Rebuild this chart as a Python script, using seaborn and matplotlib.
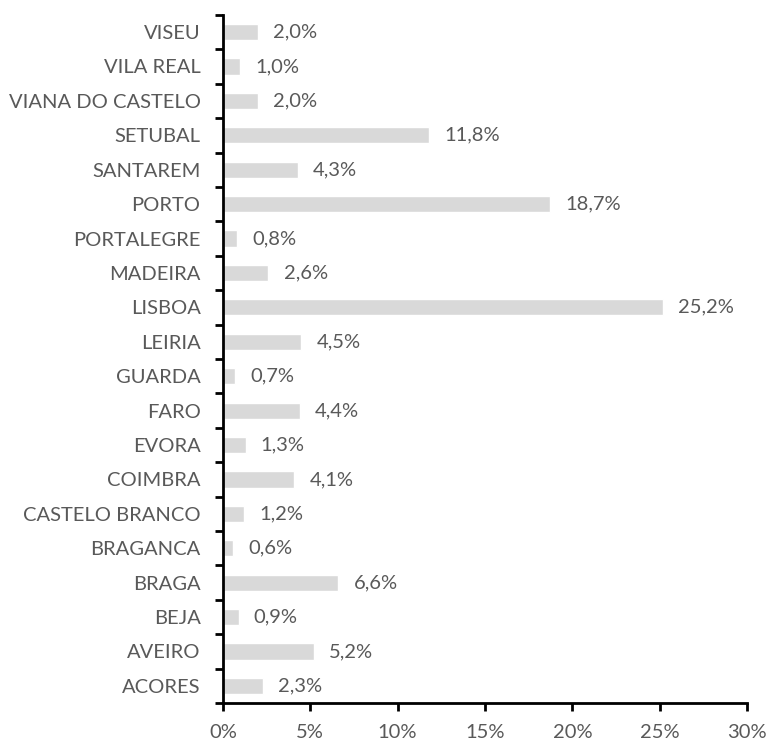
import matplotlib
matplotlib.use("Agg")
import matplotlib.pyplot as plt
import seaborn as sns
import pandas as pd
import numpy as np
from matplotlib.ticker import FixedLocator, FuncFormatter

categories = ["VISEU", "VILA REAL", "VIANA DO CASTELO", "SETUBAL", "SANTAREM", "PORTO",
              "PORTALEGRE", "MADEIRA", "LISBOA", "LEIRIA", "GUARDA", "FARO", "EVORA",
              "COIMBRA", "CASTELO BRANCO", "BRAGANCA", "BRAGA", "BEJA", "AVEIRO", "ACORES"]
values = [2.0, 1.0, 2.0, 11.8, 4.3, 18.7, 0.8, 2.6, 25.2, 4.5, 0.7, 4.4, 1.3,
          4.1, 1.2, 0.6, 6.6, 0.9, 5.2, 2.3]
x_ticks = [0, 5, 10, 15, 20, 25, 30]

sns.set_style("white")
plt.rcParams['font.family'] = ['Lato', 'DejaVu Sans']
text_color = "#595959"
fs = 14.5

df = pd.DataFrame({"cat": categories, "val": values})
fig = plt.figure(figsize=(7.71, 7.44), dpi=100)
ax = fig.add_axes([0.289, 0.055, 0.680, 0.925])
sns.barplot(data=df, x="val", y="cat", order=categories, color="#d9d9d9",
            saturation=1, width=0.47, ax=ax)
ax.set_xlim(0, 30)
ax.set_ylim(len(categories) - 0.5, -0.5)
ax.set_xlabel("")
ax.set_ylabel("")
for s in ["top", "right"]:
    ax.spines[s].set_visible(False)
for s in ["left", "bottom"]:
    ax.spines[s].set_color("black")
    ax.spines[s].set_linewidth(2)

ax.xaxis.set_major_locator(FixedLocator(x_ticks))
ax.xaxis.set_major_formatter(FuncFormatter(lambda v, p: f"{int(v)}%"))
ax.tick_params(axis="x", direction="out", length=6, width=2, color="black",
               labelsize=fs, labelcolor=text_color, pad=9, bottom=True)
ax.tick_params(axis="y", which="major", length=0, labelsize=fs, labelcolor=text_color, pad=16)
ax.yaxis.set_minor_locator(FixedLocator(np.arange(-0.5, len(categories), 1.0)))
ax.tick_params(axis="y", which="minor", direction="out", length=6, width=2, color="black", left=True)

for c in ax.containers:
    ax.bar_label(c, labels=[f"{v:.1f}%".replace(".", ",") for v in values],
                 padding=11, fontsize=fs, color=text_color)

fig.savefig("out.png", dpi=100)
